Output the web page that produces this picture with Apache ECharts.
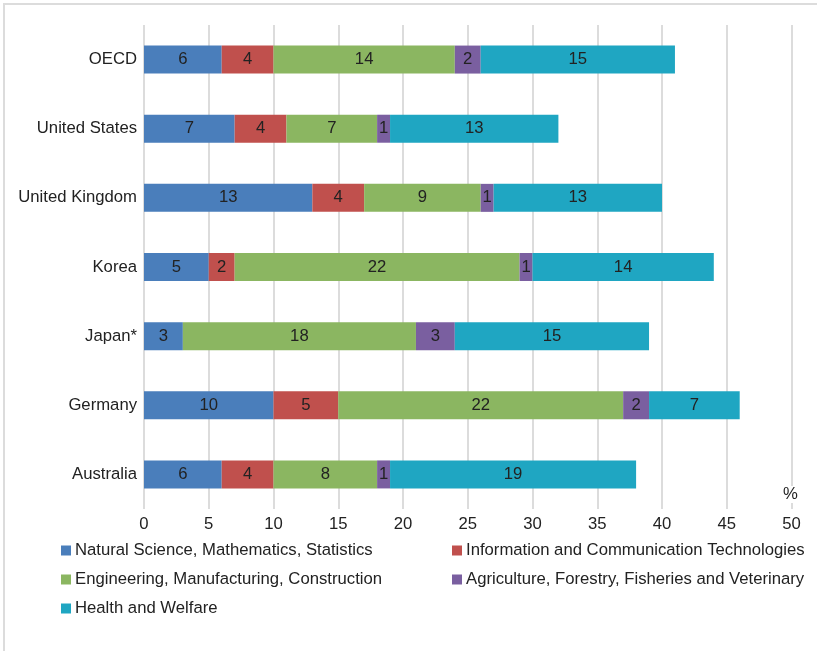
<!DOCTYPE html>
<html>
<head>
<meta charset="utf-8">
<script src="https://cdn.jsdelivr.net/npm/echarts@6/dist/echarts.min.js"></script>
<style>html,body{margin:0;padding:0;background:#fff}#c{width:817px;height:651px}</style>
</head>
<body>
<div id="c"></div>
<script>
const categories = ['OECD', 'United States', 'United Kingdom', 'Korea', 'Japan*', 'Germany', 'Australia'];
const seriesNames = [
  'Natural Science, Mathematics, Statistics',
  'Information and Communication Technologies',
  'Engineering, Manufacturing, Construction',
  'Agriculture, Forestry, Fisheries and Veterinary',
  'Health and Welfare'
];
const naturalScience = [6, 7, 13, 5, 3, 10, 6];
const ict = [4, 4, 4, 2, 0, 5, 4];
const engineering = [14, 7, 9, 22, 18, 22, 8];
const agriculture = [2, 1, 1, 1, 3, 2, 1];
const health = [15, 13, 13, 14, 15, 7, 19];
const xTicks = [0, 5, 10, 15, 20, 25, 30, 35, 40, 45, 50];
const colors = ['#4a7ebb', '#c0504d', '#8bb661', '#7a5fa0', '#1fa6c2'];

const values = [naturalScience, ict, engineering, agriculture, health];
const font = '"Liberation Sans", Arial, sans-serif';
const fs = 16.7;
const chart = echarts.init(document.getElementById('c'), null, {renderer: 'canvas'});

const legendPos = [
  {left: 61, top: 542},
  {left: 452, top: 542},
  {left: 61, top: 571},
  {left: 452, top: 571},
  {left: 61, top: 600}
];

chart.setOption({
  animation: false,
  textStyle: {fontFamily: font},
  grid: {left: 144, right: 25.5, top: 25, bottom: 142, containLabel: false},
  graphic: [
    {type: 'rect', shape: {x: 4, y: 4, width: 830, height: 670}, style: {fill: 'none', stroke: '#dcdcdc', lineWidth: 2}, silent: true},
    {type: 'text', left: 783, top: 486, z: 100, style: {text: '%', fontSize: fs, fill: '#222', fontFamily: font, backgroundColor: '#fff'}}
  ],
  legend: seriesNames.map((n, i) => ({
    data: [n],
    left: legendPos[i].left,
    top: legendPos[i].top,
    icon: 'rect',
    itemWidth: 10,
    itemHeight: 10,
    selectedMode: false,
    padding: 0,
    textStyle: {fontSize: fs, color: '#222', fontFamily: font, padding: [0, 0, 0, -1]}
  })),
  xAxis: {
    type: 'value',
    min: xTicks[0],
    max: xTicks[xTicks.length - 1],
    interval: 5,
    axisLine: {show: false},
    axisTick: {show: false},
    splitLine: {show: true, lineStyle: {color: '#dcdcdc', width: 2}},
    axisLabel: {fontSize: fs, color: '#222', margin: 7, fontFamily: font}
  },
  yAxis: {
    type: 'category',
    data: categories,
    inverse: true,
    axisLine: {show: false},
    axisTick: {show: false},
    axisLabel: {fontSize: fs, color: '#222', margin: 7, fontFamily: font}
  },
  series: seriesNames.map((n, i) => ({
    name: n,
    type: 'bar',
    stack: 'total',
    barWidth: 28,
    itemStyle: {color: colors[i]},
    label: {
      show: true,
      position: 'inside',
      fontSize: fs,
      color: '#222',
      fontFamily: font,
      formatter: p => (p.value ? p.value : '')
    },
    data: values[i].map(v => (v === 0 ? null : v))
  }))
});
</script>
</body>
</html>
